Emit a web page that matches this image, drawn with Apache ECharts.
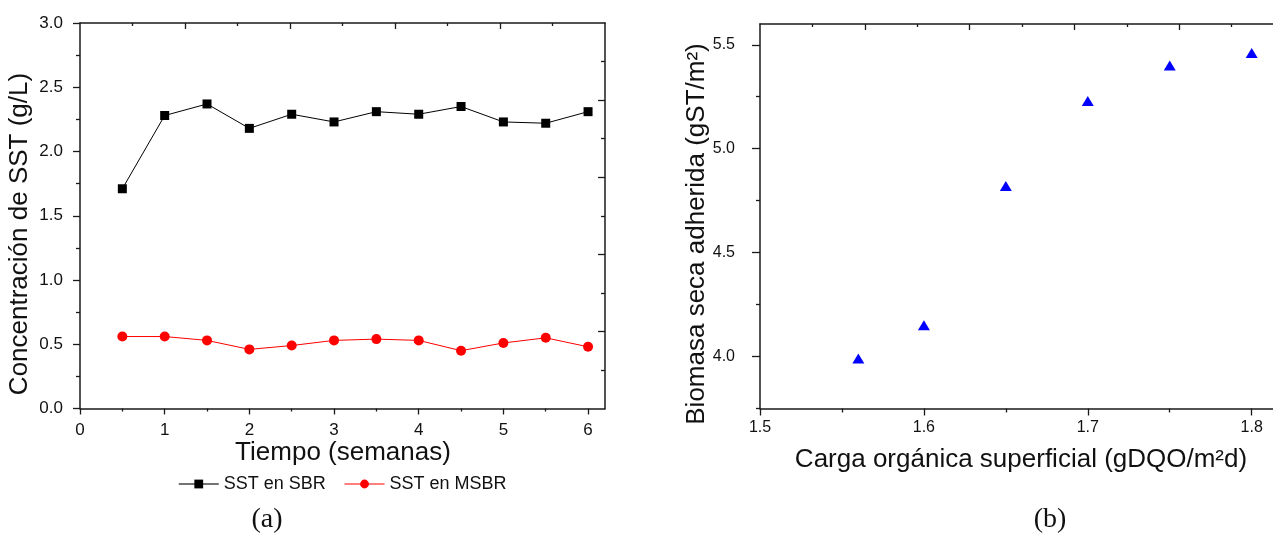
<!DOCTYPE html>
<html>
<head>
<meta charset="utf-8">
<script src="https://cdn.jsdelivr.net/npm/echarts@6/dist/echarts.min.js"></script>
<style>
html,body{margin:0;padding:0;background:#fff;}
#chart{width:1273px;height:535px;}
</style>
</head>
<body>
<div id="chart"></div>
<script>
// ---- Data: panel (a) ----
const weeks = [0.5, 1, 1.5, 2, 2.5, 3, 3.5, 4, 4.5, 5, 5.5, 6];
const sstSBR = [1.71, 2.28, 2.37, 2.18, 2.29, 2.23, 2.31, 2.29, 2.35, 2.23, 2.22, 2.31];
const sstMSBR = [0.56, 0.56, 0.53, 0.46, 0.49, 0.53, 0.54, 0.53, 0.45, 0.51, 0.55, 0.48];
const xTicksA = [0, 1, 2, 3, 4, 5, 6];
const xMinorA = [0.5, 1.5, 2.5, 3.5, 4.5, 5.5];
const seriesNamesA = ['SST en SBR', 'SST en MSBR'];

// ---- Data: panel (b) ----
const carga = [1.56, 1.6, 1.65, 1.7, 1.75, 1.8];
const biomasa = [3.99, 4.15, 4.82, 5.23, 5.40, 5.46];
const xTicksB = [1.5, 1.6, 1.7, 1.8];
const xMinorB = [1.55, 1.65, 1.75];
const yTicksB = [4.0, 4.5, 5.0, 5.5];
const yMinorB = [3.75, 4.25, 4.75, 5.25];

// mirrored (unlabelled) frame axes
const frameMajor = [2, 4, 6, 8];
const frameMinor = [1, 3, 5, 7, 9];

const FONT = '"Liberation Sans", Arial, sans-serif';
const AX = '#1a1a1a';

function baseAxis(o) {
  const a = {
    type: 'value',
    gridIndex: o.grid,
    position: o.pos,
    min: o.min, max: o.max,
    axisLine: { show: !!o.line, onZero: false, lineStyle: { color: AX, width: 1.5 } },
    axisTick: { show: true, inside: !!o.inside, length: o.len, lineStyle: { color: AX, width: 1.3 } },
    axisLabel: { show: false },
    splitLine: { show: false },
    minorTick: { show: false },
    minorSplitLine: { show: false }
  };
  if (o.ticks) a.axisTick.customValues = o.ticks;
  if (o.interval) a.interval = o.interval;
  if (o.labels) {
    a.axisLabel = {
      show: true, customValues: o.labels, color: '#111', fontSize: o.fs || 16,
      fontFamily: FONT, margin: o.margin, formatter: o.fmt
    };
  }
  return a;
}

const fmt1 = v => Number(v).toFixed(1);
const fmt0 = v => String(Math.round(v));

const xAxes = [
  baseAxis({ grid: 0, pos: 'bottom', min: 0, max: 6.2, line: true, len: 6, ticks: xTicksA, labels: xTicksA, fmt: fmt0, margin: 13, fs: 17 }),
  baseAxis({ grid: 0, pos: 'bottom', min: 0, max: 6.2, len: 3, ticks: xMinorA }),
  baseAxis({ grid: 0, pos: 'top', min: 0, max: 10, line: true, inside: true, len: 6, ticks: frameMajor }),
  baseAxis({ grid: 0, pos: 'top', min: 0, max: 10, inside: true, len: 3, ticks: frameMinor }),
  baseAxis({ grid: 1, pos: 'bottom', min: 1.5, max: 1.813, line: true, len: 7, ticks: xTicksB, labels: xTicksB, fmt: fmt1, margin: 11 }),
  baseAxis({ grid: 1, pos: 'bottom', min: 1.5, max: 1.813, len: 4, ticks: xMinorB }),
  baseAxis({ grid: 1, pos: 'top', min: 0, max: 9.79, line: true, inside: true, len: 6, ticks: frameMajor }),
  baseAxis({ grid: 1, pos: 'top', min: 0, max: 9.79, inside: true, len: 3, ticks: frameMinor })
];

const yLeftA = baseAxis({ grid: 0, pos: 'left', min: 0, max: 3, line: true, len: 7, interval: 0.5 });
yLeftA.axisLabel = { show: true, color: '#111', fontSize: 17, fontFamily: FONT, margin: 17, formatter: fmt1 };
yLeftA.minorTick = { show: true, splitNumber: 2, length: 4, lineStyle: { color: AX, width: 1.3 } };

const yAxes = [
  yLeftA,
  baseAxis({ grid: 0, pos: 'right', min: 0, max: 10, line: true, inside: true, len: 7, ticks: frameMajor }),
  baseAxis({ grid: 0, pos: 'right', min: 0, max: 10, inside: true, len: 4, ticks: frameMinor }),
  baseAxis({ grid: 1, pos: 'left', min: 3.75, max: 5.6, line: true, len: 8, ticks: yTicksB, labels: yTicksB, fmt: fmt1, margin: 25 }),
  baseAxis({ grid: 1, pos: 'left', min: 3.75, max: 5.6, len: 4, ticks: yMinorB })
];

const chart = echarts.init(document.getElementById('chart'), null, { renderer: 'canvas' });
chart.setOption({
  animation: false,
  backgroundColor: '#fff',
  grid: [
    { left: 80, top: 23, width: 525, height: 385.5, containLabel: false },
    { left: 760, top: 24, width: 513, height: 384.5, containLabel: false }
  ],
  xAxis: xAxes,
  yAxis: yAxes,
  legend: {
    data: [
      { name: seriesNamesA[0], lineStyle: { color: '#444', width: 1.5 } },
      { name: seriesNamesA[1], lineStyle: { color: '#ff5555', width: 1.5 } }
    ],
    left: 173, top: 470,
    itemWidth: 40, itemHeight: 11, itemGap: 18,
    textStyle: { color: '#111', fontSize: 18, fontFamily: FONT }
  },
  series: [
    {
      name: seriesNamesA[0], type: 'line', xAxisIndex: 0, yAxisIndex: 0,
      data: weeks.map((w, i) => [w, sstSBR[i]]),
      symbol: 'rect', symbolSize: 9,
      lineStyle: { color: '#000', width: 1 },
      itemStyle: { color: '#000' }
    },
    {
      name: seriesNamesA[1], type: 'line', xAxisIndex: 0, yAxisIndex: 0,
      data: weeks.map((w, i) => [w, sstMSBR[i]]),
      symbol: 'circle', symbolSize: 10,
      lineStyle: { color: '#ff0000', width: 1 },
      itemStyle: { color: '#ff0000' }
    },
    {
      name: 'Biomasa', type: 'scatter', xAxisIndex: 4, yAxisIndex: 3,
      data: carga.map((c, i) => [c, biomasa[i]]),
      symbol: 'triangle', symbolSize: [12, 10],
      itemStyle: { color: '#0000ff', opacity: 1 }
    }
  ],
  graphic: [
    { type: 'text', x: 20, y: 234, rotation: Math.PI / 2,
      style: { text: 'Concentración de SST (g/L)', font: '26px ' + FONT, fill: '#111', align: 'center', verticalAlign: 'middle' } },
    { type: 'text', x: 343, y: 453,
      style: { text: 'Tiempo (semanas)', font: '26px ' + FONT, fill: '#111', align: 'center', verticalAlign: 'middle' } },
    { type: 'text', x: 697, y: 234, rotation: Math.PI / 2,
      style: { text: 'Biomasa seca adherida (gST/m²)', font: '26px ' + FONT, fill: '#111', align: 'center', verticalAlign: 'middle' } },
    { type: 'text', x: 1021, y: 460,
      style: { text: 'Carga orgánica superficial (gDQO/m²d)', font: '26px ' + FONT, fill: '#111', align: 'center', verticalAlign: 'middle' } },
    { type: 'text', x: 267, y: 520,
      style: { text: '(a)', font: '28px "Liberation Serif", "Times New Roman", serif', fill: '#111', align: 'center', verticalAlign: 'middle' } },
    { type: 'text', x: 1050, y: 520,
      style: { text: '(b)', font: '28px "Liberation Serif", "Times New Roman", serif', fill: '#111', align: 'center', verticalAlign: 'middle' } }
  ]
});
</script>
</body>
</html>
